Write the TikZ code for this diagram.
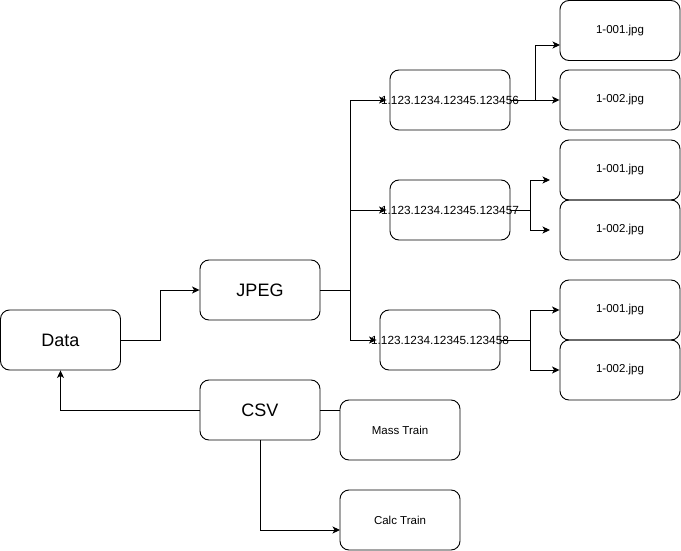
\documentclass[tikz,border=0pt]{standalone}
\usepackage{fontspec}
\setmainfont{Liberation Sans}
\usetikzlibrary{arrows.meta}
\begin{document}
\begin{tikzpicture}[x=1pt,y=-1pt,
  box/.style={draw,rounded corners=9pt,line width=0.9pt,minimum width=120pt,minimum height=60pt,inner sep=0pt,font=\fontsize{11.5}{13}\selectfont},
  bigbox/.style={box,font=\fontsize{18}{21}\selectfont},
  idbox/.style={box,font=\fontsize{11.8}{14}\selectfont},
  link/.style={line width=0.9pt},
  arr/.style={link,-{Stealth[length=7.5pt,width=7pt,inset=2pt]}}]
\useasboundingbox (0,0) rectangle (681,551);
\node[bigbox] (data) at (60.5,340) {Data};
\node[bigbox] (jpeg) at (260,290) {JPEG};
\node[bigbox] (csv) at (260,410) {CSV};
\node[idbox] (ida) at (450,100) {\makebox[0pt]{1.123.1234.12345.123456}};
\node[idbox] (idb) at (450,210) {\makebox[0pt]{1.123.1234.12345.123457}};
\node[idbox] (idc) at (440,340) {\makebox[0pt]{1.123.1234.12345.123458}};
\node[box] (fa1) at (620,30.5) {1-001.jpg};
\node[box] (fa2) at (620,100) {1-002.jpg};
\node[box] (fb1) at (620,170) {1-001.jpg};
\node[box] (fb2) at (620,230) {1-002.jpg};
\node[box] (fc1) at (620,310) {1-001.jpg};
\node[box] (fc2) at (620,370) {1-002.jpg};
\node[box] (mass) at (400,430) {Mass Train};
\node[box] (calc) at (400,520) {Calc Train};
\coordinate (ja) at (350,290);
\coordinate (ta1) at (560,45);
\coordinate (sa) at (535,100);
\coordinate (sb) at (530,210);
\coordinate (tb1) at (550,180);
\coordinate (tb2) at (550,230);
\coordinate (sc) at (530,340);
\coordinate (tcalc) at (340,530);
% Data -> JPEG
\draw[arr] (data.east) -- (160,340) |- (jpeg.west);
% CSV -> Data
\draw[arr] (csv.west) -| (data.south);
% JPEG -> ids
\draw[link] (jpeg.east) -- (ja);
\draw[arr] (ja) |- ([xshift=-3pt]ida.west);
\draw[arr] (ja) |- ([xshift=-3pt]idb.west);
\draw[arr] (ja) |- ([xshift=-3pt]idc.west);
% id a
\draw[arr] (ida.east) -- (fa2.west);
\draw[arr] (sa) |- (ta1);
% id b
\draw[link] (idb.east) -- (sb);
\draw[arr] (sb) |- (tb1);
\draw[arr] (sb) |- (tb2);
% id c
\draw[link] (idc.east) -- (sc);
\draw[arr] (sc) |- (fc1.west);
\draw[arr] (sc) |- (fc2.west);
% CSV -> trains
\draw[link] (csv.east) -- (mass.west |- csv.east);
\draw[arr] (csv.south) |- (tcalc);
\end{tikzpicture}
\end{document}
